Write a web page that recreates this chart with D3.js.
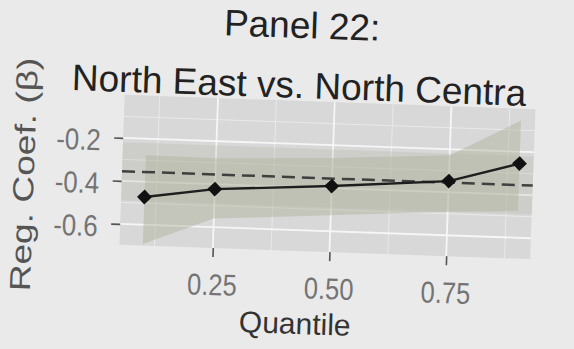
<!DOCTYPE html>
<html>
<head>
<meta charset="utf-8">
<script src="https://cdn.jsdelivr.net/npm/d3@7"></script>
<style>
  body { margin: 0; background: #eaeaea; }
  svg { display: block; font-family: "Liberation Sans", Arial, sans-serif; }
</style>
</head>
<body>
<div id="chart"></div>
<script>
// quantile regression estimates
var quantiles = [0.1, 0.25, 0.5, 0.75, 0.9];
var coef = [-0.471, -0.423, -0.39, -0.348, -0.255];
var ciLower = [-0.69, -0.56, -0.526, -0.49, -0.475];
var ciUpper = [-0.277, -0.28, -0.26, -0.228, -0.055];
// OLS estimate and its interval
var olsCoef = -0.355;
var olsLower = -0.49;
var olsUpper = -0.22;

var xTicks = [0.25, 0.5, 0.75];
var xMinor = [0.125, 0.375, 0.625, 0.875];
var yTicks = [-0.2, -0.4, -0.6];
var yMinor = [-0.1, -0.3, -0.5];

var W = 574, H = 349;
var panel = { left: 122, right: 533, top: 102, bottom: 252 };

var x = d3.scaleLinear().domain([0.05, 0.93]).range([panel.left, panel.right]);
var y = d3.scaleLinear().domain([-0.697, 0.0]).range([panel.bottom, panel.top]);

var svg = d3.select("#chart").append("svg")
    .attr("width", W)
    .attr("height", H);

svg.append("rect")
    .attr("width", W)
    .attr("height", H)
    .attr("fill", "#eaeaea");

// the photo is tilted a little
var root = svg.append("g")
    .attr("transform", "rotate(2,328,175)");

root.append("rect")
    .attr("x", panel.left)
    .attr("y", panel.top)
    .attr("width", panel.right - panel.left)
    .attr("height", panel.bottom - panel.top)
    .attr("fill", "#d8d8d8");

// grid
var grid = root.append("g");
grid.selectAll(".vminor").data(xMinor).enter().append("line")
    .attr("x1", function(d) { return x(d); }).attr("x2", function(d) { return x(d); })
    .attr("y1", panel.top).attr("y2", panel.bottom)
    .attr("stroke", "#ececec").attr("stroke-width", 0.8);
grid.selectAll(".hminor").data(yMinor).enter().append("line")
    .attr("x1", panel.left).attr("x2", panel.right)
    .attr("y1", function(d) { return y(d); }).attr("y2", function(d) { return y(d); })
    .attr("stroke", "#ececec").attr("stroke-width", 0.8);
grid.selectAll(".vmajor").data(xTicks).enter().append("line")
    .attr("x1", function(d) { return x(d); }).attr("x2", function(d) { return x(d); })
    .attr("y1", panel.top).attr("y2", panel.bottom)
    .attr("stroke", "#f6f6f6").attr("stroke-width", 1.8);
grid.selectAll(".hmajor").data(yTicks).enter().append("line")
    .attr("x1", panel.left).attr("x2", panel.right)
    .attr("y1", function(d) { return y(d); }).attr("y2", function(d) { return y(d); })
    .attr("stroke", "#f6f6f6").attr("stroke-width", 1.8);

// OLS interval band
root.append("rect")
    .attr("x", panel.left)
    .attr("y", y(olsUpper))
    .attr("width", panel.right - panel.left)
    .attr("height", y(olsLower) - y(olsUpper))
    .attr("fill", "#a9ab98")
    .attr("opacity", 0.22);

// quantile interval ribbon
var rows = quantiles.map(function(q, i) {
    return { q: q, est: coef[i], lo: ciLower[i], hi: ciUpper[i] };
});

root.append("path")
    .datum(rows)
    .attr("fill", "#aeb19c")
    .attr("opacity", 0.45)
    .attr("d", d3.area()
        .x(function(d) { return x(d.q); })
        .y0(function(d) { return y(d.lo); })
        .y1(function(d) { return y(d.hi); }));

root.append("line")
    .attr("x1", panel.left).attr("x2", panel.right)
    .attr("y1", y(olsCoef)).attr("y2", y(olsCoef))
    .attr("stroke", "#404040")
    .attr("stroke-width", 2.5)
    .attr("stroke-dasharray", "13,7");

root.append("path")
    .datum(rows)
    .attr("fill", "none")
    .attr("stroke", "#1e1e1e")
    .attr("stroke-width", 2.4)
    .attr("d", d3.line()
        .x(function(d) { return x(d.q); })
        .y(function(d) { return y(d.est); }));

root.selectAll(".pt").data(rows).enter().append("path")
    .attr("class", "pt")
    .attr("transform", function(d) { return "translate(" + x(d.q) + "," + y(d.est) + ")"; })
    .attr("d", d3.symbol().type(d3.symbolDiamond2).size(140))
    .attr("fill", "#111");

// axes
var xAxis = root.append("g")
    .attr("transform", "translate(0," + panel.bottom + ")")
    .call(d3.axisBottom(x).tickValues(xTicks).tickSize(9).tickFormat(function(d) { return d.toFixed(2); }));
var yAxis = root.append("g")
    .attr("transform", "translate(" + panel.left + ",0)")
    .call(d3.axisLeft(y).tickValues(yTicks).tickSize(9).tickFormat(function(d) { return d.toFixed(1); }));

[xAxis, yAxis].forEach(function(a) {
    a.select(".domain").remove();
    a.selectAll(".tick line").attr("stroke", "#555").attr("stroke-width", 1.6);
    a.selectAll(".tick text")
        .attr("fill", "#747474")
        .style("font-size", "30px");
});
xAxis.selectAll(".tick text")
    .attr("y", 47)
    .attr("dy", null)
    .attr("transform", "scale(0.85,1)");
yAxis.selectAll(".tick text")
    .attr("x", -26)
    .attr("dy", "0.42em")
    .attr("transform", "scale(0.86,1)");

// titles
root.append("text")
    .attr("x", 297).attr("y", 39)
    .attr("text-anchor", "middle")
    .attr("fill", "#222")
    .style("font-size", "37px")
    .text("Panel 22:");
root.append("text")
    .attr("x", 296).attr("y", 99)
    .attr("text-anchor", "middle")
    .attr("fill", "#222")
    .style("font-size", "37px")
    .text("North East vs. North Centra");

root.append("text")
    .attr("x", 300).attr("y", 335)
    .attr("text-anchor", "middle")
    .attr("fill", "#333")
    .style("font-size", "30px")
    .text("Quantile");

root.append("text")
    .attr("transform", "translate(34,185) rotate(-90) scale(1.28,1)")
    .attr("text-anchor", "middle")
    .attr("fill", "#555")
    .style("font-size", "29px")
    .text("Reg. Coef. (\u03b2)");
</script>
</body>
</html>
